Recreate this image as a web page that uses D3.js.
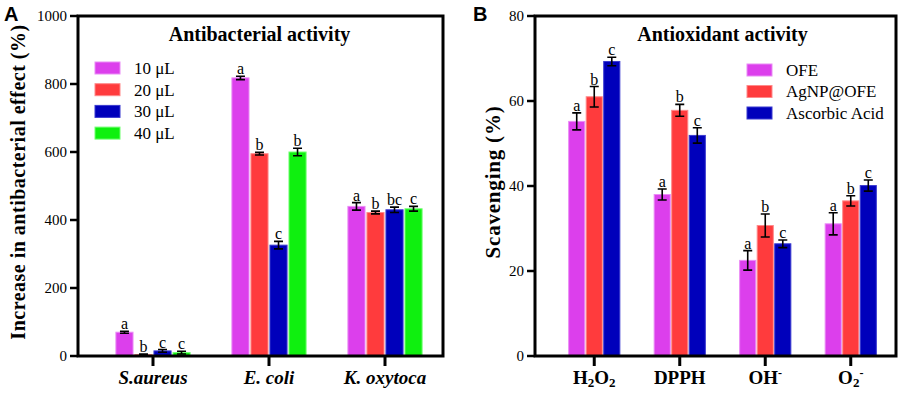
<!DOCTYPE html>
<html>
<head>
<meta charset="utf-8">
<script src="https://cdn.jsdelivr.net/npm/d3@7"></script>
<style>
  body { margin: 0; background: #fff; }
  svg { display: block; }
  text { font-family: "Liberation Serif", "DejaVu Serif", serif; fill: #000; }
</style>
</head>
<body>
<div id="chart"></div>
<script>
// ---- Panel A data: antibacterial activity ----
const bactCategories = ["S.aureus", "E. coli", "K. oxytoca"];
const bactSeries = ["10 μL", "20 μL", "30 μL", "40 μL"];
const bact10 = [70, 818, 440];
const bact20 = [4, 595, 422];
const bact30 = [15, 326, 430];
const bact40 = [10, 600, 433];
const bactErr10 = [3, 5, 11];
const bactErr20 = [2, 4, 4];
const bactErr30 = [4, 11, 8];
const bactErr40 = [4, 11, 7];
const bactLetters10 = ["a", "a", "a"];
const bactLetters20 = ["b", "b", "b"];
const bactLetters30 = ["c", "c", "bc"];
const bactLetters40 = ["c", "b", "c"];
const bactTicks = [0, 200, 400, 600, 800, 1000];

// ---- Panel B data: antioxidant activity ----
const oxCategories = ["H2O2", "DPPH", "OH-", "O2-"];
const oxSeries = ["OFE", "AgNP@OFE", "Ascorbic Acid"];
const oxOFE = [55.2, 38.0, 22.5, 31.1];
const oxAgNP = [61.0, 57.8, 30.7, 36.5];
const oxAscorbic = [69.3, 51.9, 26.4, 40.1];
const oxErrOFE = [2.0, 1.3, 2.3, 2.6];
const oxErrAgNP = [2.4, 1.4, 2.7, 1.2];
const oxErrAscorbic = [1.0, 1.8, 0.9, 1.3];
const oxLettersOFE = ["a", "a", "a", "a"];
const oxLettersAgNP = ["b", "b", "b", "b"];
const oxLettersAscorbic = ["c", "c", "c", "c"];
const oxTicks = [0, 20, 40, 60, 80];

const colors4 = ["#dc3fec", "#ff3b3d", "#0000bb", "#0ff00f"];
const edges4 = ["#ea8cf6", "#ff8a8a", "#3a3ad0", "#70ff70"];

const W = 899, H = 393;
const svg = d3.select("#chart").append("svg")
    .attr("width", W)
    .attr("height", H);

function drawPanel(p) {
    let g = svg.append("g");

    let y = d3.scaleLinear()
        .domain(p.yDomain)
        .range([p.bottom, p.top]);

    let x0 = d3.scaleBand()
        .domain(p.categories)
        .range(p.bandRange)
        .padding(0);

    let x1 = d3.scaleBand()
        .domain(p.series)
        .range([0, p.innerWidth])
        .padding(p.innerPad);

    let offset = (x0.bandwidth() - p.innerWidth) / 2;

    // bars
    p.series.forEach((s, si) => {
        let vals = p.values[si];
        let errs = p.errors[si];
        let lets = p.letters[si];
        let rows = p.categories.map((c, ci) => ({c: c, v: vals[ci], e: errs[ci], l: lets[ci]}));

        let sg = g.append("g");
        sg.selectAll("rect")
            .data(rows)
            .enter().append("rect")
            .attr("x", d => x0(d.c) + offset + x1(s))
            .attr("y", d => y(d.v))
            .attr("width", x1.bandwidth())
            .attr("height", d => y(0) - y(d.v))
            .attr("fill", colors4[si])
            .attr("stroke", edges4[si])
            .attr("stroke-width", 1);

        // error bars
        let cx = d => x0(d.c) + offset + x1(s) + x1.bandwidth() / 2;
        sg.selectAll(".eb")
            .data(rows)
            .enter().append("path")
            .attr("d", d => {
                let t = y(d.v + d.e), b = y(d.v - d.e), xx = cx(d), w = 4.5;
                return "M" + xx + "," + t + "V" + b +
                    "M" + (xx - w) + "," + t + "H" + (xx + w) +
                    "M" + (xx - w) + "," + b + "H" + (xx + w);
            })
            .attr("stroke", "#000")
            .attr("stroke-width", 1.6)
            .attr("fill", "none");

        // significance letters
        sg.selectAll(".lt")
            .data(rows)
            .enter().append("text")
            .attr("x", cx)
            .attr("y", d => y(d.v + d.e) - 2)
            .attr("text-anchor", "middle")
            .style("font-size", "16px")
            .text(d => d.l);
    });

    // y axis ticks
    g.selectAll(".ytick")
        .data(p.ticks)
        .enter().append("line")
        .attr("x1", p.left - 8)
        .attr("x2", p.left)
        .attr("y1", d => y(d))
        .attr("y2", d => y(d))
        .attr("stroke", "#000")
        .attr("stroke-width", 2.5);

    g.selectAll(".ylab")
        .data(p.ticks)
        .enter().append("text")
        .attr("x", p.left - 11)
        .attr("y", d => y(d))
        .attr("dy", "0.35em")
        .attr("text-anchor", "end")
        .style("font-size", "15px")
        .text(d => d);

    // x axis ticks
    g.selectAll(".xtick")
        .data(p.categories)
        .enter().append("line")
        .attr("x1", d => x0(d) + x0.bandwidth() / 2)
        .attr("x2", d => x0(d) + x0.bandwidth() / 2)
        .attr("y1", p.bottom)
        .attr("y2", p.bottom + 10)
        .attr("stroke", "#000")
        .attr("stroke-width", 3);

    // x labels
    let xl = g.selectAll(".xlab")
        .data(p.categories)
        .enter().append("text")
        .attr("x", d => x0(d) + x0.bandwidth() / 2)
        .attr("y", 384)
        .attr("text-anchor", "middle")
        .style("font-size", "19px")
        .style("font-weight", "bold")
        .style("font-style", p.italicLabels ? "italic" : "normal");
    xl.each(function(d) { p.labelFormat(d3.select(this), d); });

    // frame
    g.append("rect")
        .attr("x", p.left)
        .attr("y", p.top)
        .attr("width", p.right - p.left)
        .attr("height", p.bottom - p.top)
        .attr("fill", "none")
        .attr("stroke", "#000")
        .attr("stroke-width", 3);

    // title
    g.append("text")
        .attr("x", (p.left + p.right) / 2 + p.titleShift)
        .attr("y", 41)
        .attr("text-anchor", "middle")
        .style("font-size", "20px")
        .style("font-weight", "bold")
        .text(p.title);

    // y title
    g.append("text")
        .attr("transform", "translate(" + p.yTitleX + "," + p.yTitleY + ") rotate(-90)")
        .attr("text-anchor", "middle")
        .style("font-size", p.yTitleSize)
        .style("letter-spacing", p.yTitleSpacing)
        .style("font-weight", "bold")
        .text(p.yTitle);

    // panel letter
    g.append("text")
        .attr("x", p.panelX)
        .attr("y", 21)
        .style("font-family", "'Liberation Sans', Arial, sans-serif")
        .style("font-size", "20px")
        .style("font-weight", "bold")
        .text(p.panel);

    // legend
    let lg = g.append("g");
    p.series.forEach((s, si) => {
        let yy = p.legendY + si * p.legendStep;
        lg.append("rect")
            .attr("x", p.legendX)
            .attr("y", yy - 6)
            .attr("width", 25)
            .attr("height", 12)
            .attr("fill", colors4[si])
            .attr("stroke", edges4[si])
            .attr("stroke-width", 1);
        lg.append("text")
            .attr("x", p.legendX + 39)
            .attr("y", yy)
            .attr("dy", "0.35em")
            .style("font-size", "17px")
            .text(s);
    });
}

drawPanel({
    panel: "A", panelX: 4,
    categories: bactCategories,
    series: bactSeries,
    values: [bact10, bact20, bact30, bact40],
    errors: [bactErr10, bactErr20, bactErr30, bactErr40],
    letters: [bactLetters10, bactLetters20, bactLetters30, bactLetters40],
    ticks: bactTicks,
    yDomain: [0, 1000],
    left: 78, right: 443, top: 16, bottom: 356,
    bandRange: [95, 443],
    innerWidth: 78, innerPad: 0.1,
    title: "Antibacterial activity", titleShift: -1,
    yTitle: "Increase in antibacterial effect (%)", yTitleX: 25, yTitleY: 182,
    yTitleSize: "20px", yTitleSpacing: "0.5px",
    italicLabels: true,
    labelFormat: (sel, d) => sel.text(d),
    legendX: 95, legendY: 68, legendStep: 21.7
});

drawPanel({
    panel: "B", panelX: 473,
    categories: oxCategories,
    series: oxSeries,
    values: [oxOFE, oxAgNP, oxAscorbic],
    errors: [oxErrOFE, oxErrAgNP, oxErrAscorbic],
    letters: [oxLettersOFE, oxLettersAgNP, oxLettersAscorbic],
    ticks: oxTicks,
    yDomain: [0, 80],
    left: 535, right: 896, top: 16, bottom: 356,
    bandRange: [551.5, 893.5],
    innerWidth: 54, innerPad: 0.08,
    title: "Antioxidant activity", titleShift: 7,
    yTitle: "Scavenging (%)", yTitleX: 500, yTitleY: 182,
    yTitleSize: "21px", yTitleSpacing: "0.8px",
    italicLabels: false,
    labelFormat: (sel, d) => {
        if (d === "H2O2") {
            sel.append("tspan").text("H");
            sel.append("tspan").attr("baseline-shift", "-25%").style("font-size", "13px").text("2");
            sel.append("tspan").text("O");
            sel.append("tspan").attr("baseline-shift", "-25%").style("font-size", "13px").text("2");
        } else if (d === "OH-") {
            sel.append("tspan").text("OH");
            sel.append("tspan").attr("baseline-shift", "super").style("font-size", "12px").text("-");
        } else if (d === "O2-") {
            sel.append("tspan").text("O");
            sel.append("tspan").attr("baseline-shift", "-25%").style("font-size", "13px").text("2");
            sel.append("tspan").attr("baseline-shift", "super").style("font-size", "12px").text("-");
        } else {
            sel.text(d);
        }
    },
    legendX: 747, legendY: 70, legendStep: 21.5
});
</script>
</body>
</html>
